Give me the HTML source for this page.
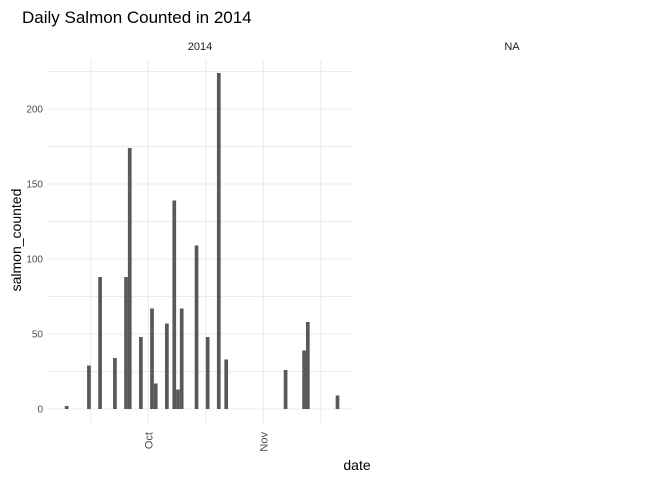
<!DOCTYPE html>
<html><head><meta charset="utf-8"><style>
body{margin:0;background:#fff;font-family:"Liberation Sans",Arial,sans-serif;}
svg text{font-family:"Liberation Sans",Arial,sans-serif;}
</style></head><body>
<svg id="chart" width="672" height="480" xmlns="http://www.w3.org/2000/svg">
<rect width="672" height="480" fill="#fff"/>
<text x="22" y="23" font-size="17" fill="#000">Daily Salmon Counted in 2014</text>
<text x="200" y="50" font-size="11" fill="#1a1a1a" text-anchor="middle">2014</text>
<text x="512" y="50" font-size="11" fill="#1a1a1a" text-anchor="middle">NA</text>
<g id="grid"></g><g id="bars"></g><g id="axes"></g>
<text transform="translate(21,240) rotate(-90)" font-size="14" text-anchor="middle" fill="#000">salmon_counted</text>
<text x="357" y="470" font-size="14" text-anchor="middle" fill="#000">date</text>
</svg>
<script>
// days relative to Oct 1, 2014
const days = [-22,-16,-13,-9,-6,-5,-2,1,2,5,7,8,9,13,16,19,21,37,42,43,51];
const counts = [2,29,88,34,88,174,48,67,17,57,139,13,67,109,48,224,33,26,39,58,9];
const yTicks = [0,50,100,150,200];
const xTickDays = [0,31];
const xTickLabels = ["Oct","Nov"];
const xMinorDays = [-15.5,15.5,46.5];

const NS="http://www.w3.org/2000/svg";
const px0=48, px1=352, y0=409, pxPerUnit=1.5;
const xs = d => 148.3 + d*3.71;
const ys = v => y0 - v*pxPerUnit;
function mk(tag,attrs,parent){const e=document.createElementNS(NS,tag);for(const k in attrs)e.setAttribute(k,attrs[k]);parent.appendChild(e);return e;}
const grid=document.getElementById('grid'), bars=document.getElementById('bars'), axes=document.getElementById('axes');
for(let v=0; v<=225; v+=25){
  const l=mk('line',{x1:px0,x2:px1,y1:ys(v),y2:ys(v),stroke:'#ebebeb','stroke-width':1},grid);
  
  
}
xTickDays.concat(xMinorDays).forEach(d=>{
  const l=mk('line',{x1:xs(d),x2:xs(d),y1:60,y2:423,stroke:'#ebebeb','stroke-width':1},grid);
  
  
});
days.forEach((d,i)=>{
  const w=3.71;
  const r=mk('rect',{x:xs(d)-w/2,y:ys(counts[i]),width:w,height:counts[i]*pxPerUnit,fill:'#595959'},bars);
  
  
});
yTicks.forEach(v=>{
  const t=mk('text',{x:43,y:ys(v)+3.5,'font-size':10,'text-anchor':'end',fill:'#4d4d4d'},axes);
  t.textContent=v;
  
  
});
xTickDays.forEach((d,i)=>{
  const t=mk('text',{transform:`translate(${xs(d)+4},432) rotate(-90)`,'font-size':11,'text-anchor':'end',fill:'#4d4d4d'},axes);
  t.textContent=xTickLabels[i];
  
  
});
</script>
</body></html>
